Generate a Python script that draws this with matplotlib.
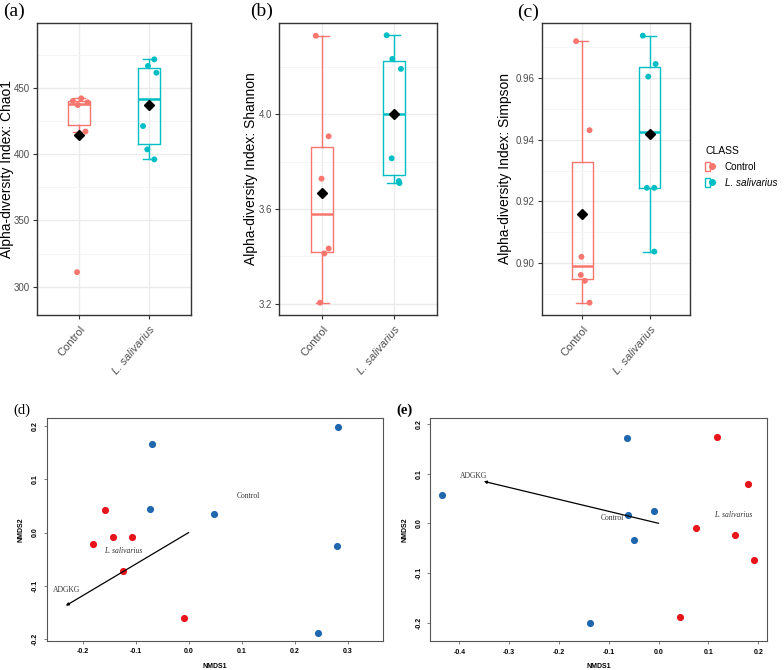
import numpy as np
import matplotlib
matplotlib.use('Agg')
import matplotlib.pyplot as plt
from matplotlib.lines import Line2D
from matplotlib.patches import Patch
from matplotlib.legend_handler import HandlerTuple

plt.rcParams['font.family'] = ['Liberation Sans', 'DejaVu Sans']

######################################################################
# Data
######################################################################
groups = ['Control', 'L. salivarius']
group_colors = ['#F8766D', '#00BFC4']

chao1_control = [311, 417, 437, 439, 440, 442]
chao1_lsal = [396, 403.5, 421.1, 461.3, 466.4, 471.4]
shannon_control = [3.204, 3.412, 3.433, 3.728, 3.907, 4.332]
shannon_lsal = [3.709, 3.718, 3.814, 4.192, 4.234, 4.334]
simpson_control = [0.8871, 0.8942, 0.8961, 0.9020, 0.9431, 0.9720]
simpson_lsal = [0.9037, 0.9244, 0.9244, 0.9605, 0.9646, 0.9738]

# horizontal jitter of each point (category units), as seen in the figure
jit_chao1 = [[-0.03, 0.09, -0.02, 0.12, -0.09, 0.03],
             [0.07, -0.03, -0.09, 0.10, -0.02, 0.07]]
jit_shannon = [[-0.03, 0.03, 0.09, -0.01, 0.09, -0.09],
               [0.08, 0.07, -0.03, 0.10, -0.02, -0.10]]
jit_simpson = [[0.11, 0.04, -0.02, -0.01, 0.11, -0.09],
               [0.07, -0.04, 0.07, -0.02, 0.09, -0.10]]

# NMDS ordinations
d_control_x = [-0.070, 0.282, -0.074, 0.047, 0.280, 0.243]
d_control_y = [0.167, 0.199, 0.044, 0.034, -0.026, -0.188]
d_lsal_x = [-0.158, -0.181, -0.143, -0.108, -0.125, -0.009]
d_lsal_y = [0.043, -0.022, -0.008, -0.009, -0.073, -0.161]
d_vector = (-0.232, -0.1375)

e_control_x = [-0.435, -0.063, -0.062, -0.009, -0.050, -0.137]
e_control_y = [0.058, 0.172, 0.017, 0.024, -0.034, -0.200]
e_lsal_x = [0.118, 0.180, 0.076, 0.153, 0.191, 0.043]
e_lsal_y = [0.174, 0.079, -0.010, -0.023, -0.074, -0.188]
e_vector = (-0.351, 0.0845)

nmds_colors = ['#1f68b0', '#e8141c']

W, H = 784.0, 670.0


def px_box(left, top, right, bottom):
    return [left / W, 1 - bottom / H, (right - left) / W, (bottom - top) / H]


######################################################################
# ggplot-like alpha diversity box plot
######################################################################
def alpha_panel(fig, rect, data, jitter, ylim, major, minor, ylabel, label_x):
    ax = fig.add_axes(rect)
    ax.set_xlim(0.4, 2.6)
    ax.set_ylim(*ylim)
    ax.set_yticks(major)
    ax.set_yticks(minor, minor=True)
    ax.grid(True, which='major', color='#EBEBEB', lw=1.0, zorder=0)
    ax.grid(True, which='minor', axis='y', color='#F4F4F4', lw=0.6, zorder=0)
    ax.set_axisbelow(True)

    for i, vals in enumerate(data):
        c = group_colors[i]
        pos = i + 1
        ax.boxplot([vals], positions=[pos], widths=0.31, whis=1.5,
                   showfliers=False, showmeans=True, capwidths=[0.18],
                   boxprops=dict(color=c, lw=1.0),
                   whiskerprops=dict(color=c, lw=1.0),
                   capprops=dict(color=c, lw=1.0),
                   medianprops=dict(color=c, lw=1.8),
                   meanprops=dict(marker='D', markerfacecolor='black',
                                  markeredgecolor='black', markersize=5),
                   manage_ticks=False, zorder=3)
        xs = pos + np.array(jitter[i])
        ax.scatter(xs, vals, s=18, color=c, edgecolor='none', zorder=4)

    ax.set_xticks([1, 2])
    ax.set_xticklabels(groups, rotation=50, ha='right', rotation_mode='anchor',
                       fontsize=8, color='#4D4D4D')
    ax.get_xticklabels()[1].set_style('italic')
    ax.tick_params(axis='y', labelsize=7, labelcolor='#4D4D4D', pad=2)
    ax.tick_params(which='major', length=3, color='#333333', width=0.8)
    ax.tick_params(which='minor', length=0)
    ax.set_ylabel(ylabel, fontsize=10)
    ax.yaxis.set_label_coords(label_x, 0.5)
    ax.yaxis.label.set_va('center')
    for s in ax.spines.values():
        s.set_color('#333333')
        s.set_linewidth(1.0)
    return ax


######################################################################
# R base-graphics style NMDS panel
######################################################################
def nmds_panel(fig, rect, cx, cy, lx, ly, vec, xlim, ylim, xticks, labels, ylab_x):
    ax = fig.add_axes(rect)
    ax.set_xlim(*xlim)
    ax.set_ylim(*ylim)
    ax.scatter(cx, cy, s=17, color=nmds_colors[0], zorder=3)
    ax.scatter(lx, ly, s=17, color=nmds_colors[1], zorder=3)
    ax.annotate('', xy=vec, xytext=(0, 0),
                arrowprops=dict(arrowstyle='-|>', color='black', lw=0.9,
                                mutation_scale=4, shrinkA=0, shrinkB=0))
    for txt, x, y, st in labels:
        ax.text(x, y, txt, fontsize=5.5, family='Liberation Serif',
                style=st, color='#333333', ha='center', va='center')
    ax.set_xticks(xticks)
    ax.set_xticklabels(['%.1f' % v for v in xticks])
    yt = [-0.2, -0.1, 0.0, 0.1, 0.2]
    ax.set_yticks(yt)
    ax.set_yticklabels(['%.1f' % v for v in yt], rotation=90, va='center')
    ax.tick_params(labelsize=5, length=2.5, width=0.6, color='#666666', pad=3)
    for lab in ax.get_xticklabels() + ax.get_yticklabels():
        lab.set_fontweight('bold')
    ax.set_xlabel('NMDS1', fontsize=5, fontweight='bold')
    ax.xaxis.set_label_coords(0.5, -26.0 / (rect[3] * H))
    ax.xaxis.label.set_va('center')
    ax.set_ylabel('NMDS2', fontsize=5, fontweight='bold')
    ax.yaxis.set_label_coords(ylab_x, 0.5)
    ax.yaxis.label.set_va('center')
    for s in ax.spines.values():
        s.set_color('#555555')
        s.set_linewidth(0.8)
    return ax


def main():
    fig = plt.figure(figsize=(W / 100, H / 100), dpi=100)

    alpha_panel(fig, px_box(37, 23, 191.5, 315), [chao1_control, chao1_lsal],
                jit_chao1, (278.7, 498.8), [300, 350, 400, 450],
                [325, 375, 425, 475], 'Alpha-diversity Index: Chao1',
                (7 - 37) / 154.5)
    alpha_panel(fig, px_box(279.3, 22.7, 436.7, 315), [shannon_control, shannon_lsal],
                jit_shannon, (3.152, 4.387), [3.2, 3.6, 4.0],
                [3.4, 3.8, 4.2], 'Alpha-diversity Index: Shannon',
                (251.5 - 279.3) / 157.4)
    alpha_panel(fig, px_box(541.7, 22.7, 690, 315), [simpson_control, simpson_lsal],
                jit_simpson, (0.8831, 0.978), [0.90, 0.92, 0.94, 0.96],
                [0.89, 0.91, 0.93, 0.95, 0.97], 'Alpha-diversity Index: Simpson',
                (505.5 - 541.7) / 148.3)

    # legend
    handles = [(Patch(facecolor='white', edgecolor=c, lw=1.0),
                Line2D([], [], color=c, marker='o', markersize=4, lw=1.0))
               for c in group_colors]
    leg = fig.legend(handles, groups, loc='upper left',
                     bbox_to_anchor=(705 / W, 1 - 146 / H), frameon=False,
                     title='CLASS', title_fontsize=7.5, fontsize=7.1,
                     handler_map={tuple: HandlerTuple(ndivide=None)},
                     handlelength=1.0, handleheight=1.1, handletextpad=1.0,
                     labelspacing=0.6, borderaxespad=0, borderpad=0,
                     alignment='left')
    leg.get_texts()[1].set_style('italic')

    nmds_panel(fig, px_box(46.7, 417.7, 383.3, 640.7),
               d_control_x, d_control_y, d_lsal_x, d_lsal_y, d_vector,
               (-0.268, 0.367), (-0.2032, 0.2156),
               [-0.2, -0.1, 0.0, 0.1, 0.2, 0.3],
               [('ADGKG', -0.230, -0.1075, 'normal'),
                ('Control', 0.1125, 0.068, 'normal'),
                ('L. salivarius', -0.123, -0.034, 'italic')],
               (21 - 46.7) / 336.6)
    nmds_panel(fig, px_box(430, 418.3, 766.7, 641),
               e_control_x, e_control_y, e_lsal_x, e_lsal_y, e_vector,
               (-0.459, 0.217), (-0.237, 0.2115),
               [-0.4, -0.3, -0.2, -0.1, 0.0, 0.1, 0.2],
               [('ADGKG', -0.372, 0.095, 'normal'),
                ('Control', -0.092, 0.010, 'normal'),
                ('L. salivarius', 0.150, 0.016, 'italic')],
               (405 - 430) / 336.7)

    # panel letters
    serif = 'Liberation Serif'
    fig.text(3 / W, 1 - 11 / H, '(a)', fontsize=14, family=serif, va='center')
    fig.text(250 / W, 1 - 11 / H, '(b)', fontsize=14, family=serif, va='center')
    fig.text(517 / W, 1 - 12 / H, '(c)', fontsize=14, family=serif, va='center')
    fig.text(13 / W, 1 - 410 / H, '(d)', fontsize=10.5, family=serif, va='center')
    fig.text(396 / W, 1 - 410 / H, '(e)', fontsize=10.5, family=serif,
             fontweight='bold', va='center')

    fig.savefig('out.png', dpi=100)


if __name__ == '__main__':
    main()
